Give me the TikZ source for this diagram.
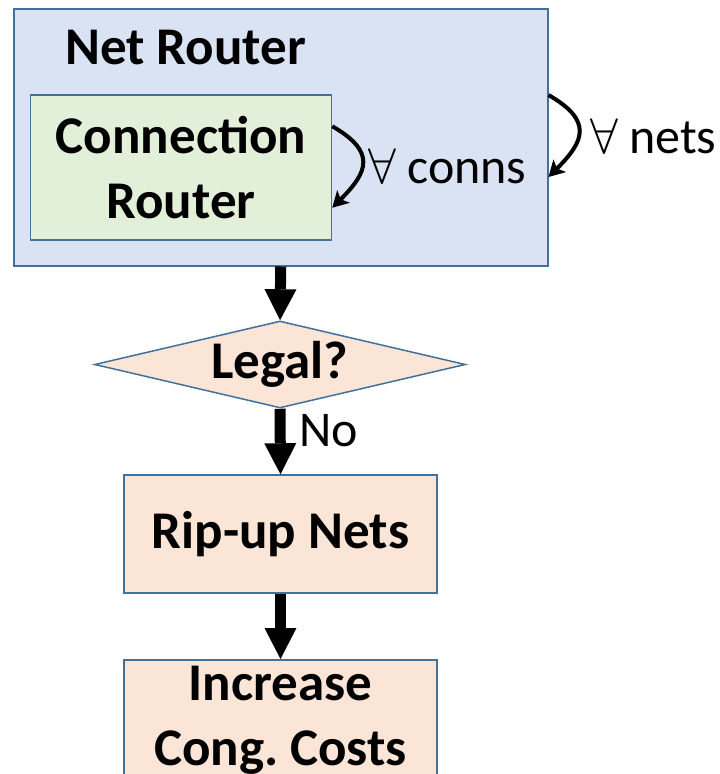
\RequirePackage{fix-cm}
\documentclass[tikz,border=0pt]{standalone}
\usepackage{fontspec}
\setmainfont{Carlito}
\usepackage{tikz}
\usetikzlibrary{arrows.meta}
\usetikzlibrary{shapes.geometric}
\definecolor{netblue}{HTML}{DAE3F3}
\definecolor{conngreen}{HTML}{E2F0D9}
\definecolor{steppeach}{HTML}{FBE5D6}
\definecolor{edgeblue}{HTML}{41719C}
\newcommand{\boldfont}{\fontsize{53}{65}\selectfont\bfseries}
\newcommand{\labelfont}{\fontsize{50}{60}\selectfont}
\newcommand{\drawflow}{\draw[line width=11pt, -{Triangle[length=31pt, width=32pt, line width=0pt]}]}
\newcommand{\drawloop}{\draw[line width=4pt, -{Stealth[length=16pt, width=18pt, inset=4pt, line width=0pt]}]}
\tikzset{
    box/.style={draw=edgeblue, line width=1.5pt, inner sep=0pt, align=center, font=\boldfont},
    txt/.style={inner sep=0pt, font=\labelfont},
}
\frenchspacing

\begin{document}
\begin{tikzpicture}[x=1pt, y=-1pt]
    \clip (0,0) rectangle (720,774);
    \useasboundingbox (0,0) rectangle (720,774);

    % Draw boxes
    \node[box, fill=netblue, anchor=north west, minimum width=534pt, minimum height=257pt] (net) at (13,8) {};
    \node[txt, font=\boldfont, anchor=base west] (nettitle) at (65,64) {Net Router};
    \node[box, fill=conngreen, minimum width=301pt, minimum height=145pt] (conn) at (181,167.5) {Connection\\Router};
    \node[box, diamond, shape aspect=4.26, fill=steppeach, minimum width=371pt, minimum height=87pt] (legal) at (280,364.5) {Legal?};
    \node[box, fill=steppeach, minimum width=313pt, minimum height=118pt] (ripup) at (280.5,534) {Rip-up Nets};
    \node[box, fill=steppeach, anchor=north, minimum width=313pt, minimum height=122pt] (costs) at (280.5,659) {Increase\\Cong. Costs};

    % Draw loops
    \drawloop ([yshift=-32pt]conn.north east) to[out=-30, in=45, looseness=1.6] ([yshift=33pt]conn.south east);
    \node[txt, anchor=base west] (conns) at (368,183) {$\forall$ conns};
    \drawloop ([yshift=-87pt]net.north east) to[out=-30, in=45, looseness=1.6] ([yshift=-169pt]net.north east);
    \node[txt, anchor=base west] (nets) at (590,153) {$\forall$ nets};

    % Draw flow
    \drawflow (net.south) -- (legal.north);
    \drawflow (legal.south) -- (ripup.north);
    \node[txt, anchor=base west] (nolbl) at (299,446) {No};
    \drawflow (ripup.south) -- (costs.north);
\end{tikzpicture}
\end{document}
